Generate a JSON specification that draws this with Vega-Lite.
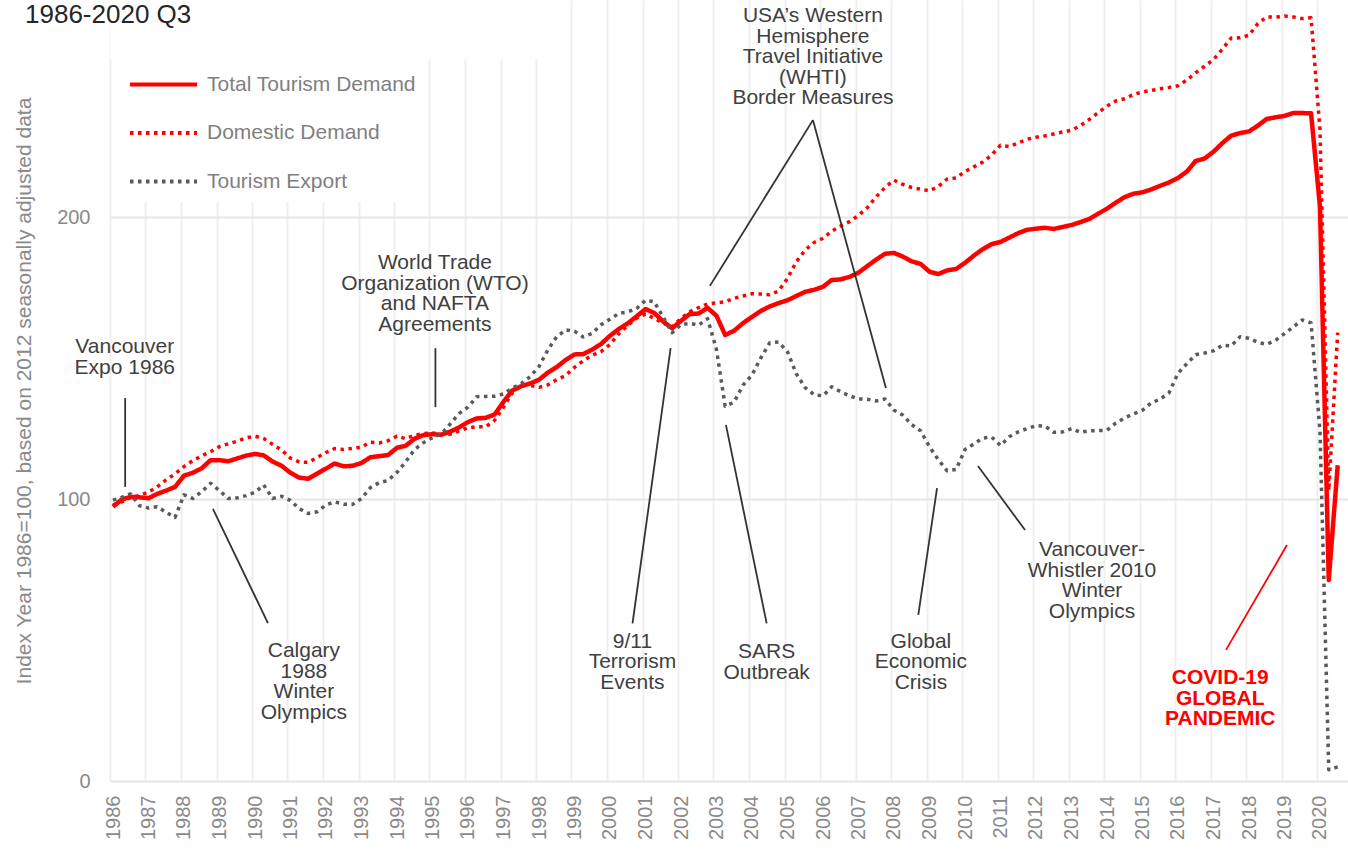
{
"$schema":"https://vega.github.io/schema/vega-lite/v6.json",
"width":1238,"height":781,
"autosize":{"type":"none"},
"padding":{"left":110,"top":0,"right":0,"bottom":70},
"background":"white",
"title":{"text":"1986-2020 Q3","anchor":"start","frame":"group","orient":"top","offset":0,"dx":-85,"dy":49,"baseline":"alphabetic","fontSize":26,"font":"Liberation Sans","fontWeight":"normal","color":"#262626"},
"config":{"font":"Liberation Sans","view":{"stroke":null}},
"datasets":{
"series":[
{"d":"1986-02-01","Total":97.3,"Domestic":97.9,"Export":99.6},
{"d":"1986-05-01","Total":99.8,"Domestic":99,"Export":100.6},
{"d":"1986-08-01","Total":100.8,"Domestic":100.5,"Export":101.8},
{"d":"1986-11-01","Total":100.6,"Domestic":101.3,"Export":97.6},
{"d":"1987-02-01","Total":100.3,"Domestic":102.5,"Export":96.8},
{"d":"1987-05-01","Total":101.8,"Domestic":104.3,"Export":97.3},
{"d":"1987-08-01","Total":103,"Domestic":106.8,"Export":95.3},
{"d":"1987-11-01","Total":104.3,"Domestic":108.9,"Export":93.5},
{"d":"1988-02-01","Total":108.3,"Domestic":111.5,"Export":101.5},
{"d":"1988-05-01","Total":109.3,"Domestic":113.6,"Export":100.2},
{"d":"1988-08-01","Total":110.9,"Domestic":115.3,"Export":102.6},
{"d":"1988-11-01","Total":113.8,"Domestic":116.8,"Export":105.6},
{"d":"1989-02-01","Total":113.8,"Domestic":118.6,"Export":103},
{"d":"1989-05-01","Total":113.4,"Domestic":119.6,"Export":100.2},
{"d":"1989-08-01","Total":114.4,"Domestic":120.5,"Export":100.4},
{"d":"1989-11-01","Total":115.4,"Domestic":121.7,"Export":101.2},
{"d":"1990-02-01","Total":116,"Domestic":122.3,"Export":102.4},
{"d":"1990-05-01","Total":115.5,"Domestic":121.5,"Export":105},
{"d":"1990-08-01","Total":113.3,"Domestic":119.4,"Export":100.2},
{"d":"1990-11-01","Total":111.8,"Domestic":117.4,"Export":101},
{"d":"1991-02-01","Total":109.3,"Domestic":114.5,"Export":99.5},
{"d":"1991-05-01","Total":107.6,"Domestic":113.2,"Export":96.6},
{"d":"1991-08-01","Total":107.2,"Domestic":113,"Export":94.9},
{"d":"1991-11-01","Total":109,"Domestic":114.7,"Export":95.5},
{"d":"1992-02-01","Total":110.8,"Domestic":116.5,"Export":97.9},
{"d":"1992-05-01","Total":112.6,"Domestic":117.9,"Export":99},
{"d":"1992-08-01","Total":111.6,"Domestic":117.6,"Export":98.2},
{"d":"1992-11-01","Total":111.8,"Domestic":118,"Export":98.1},
{"d":"1993-02-01","Total":112.8,"Domestic":118.4,"Export":100.2},
{"d":"1993-05-01","Total":114.8,"Domestic":120.2,"Export":104},
{"d":"1993-08-01","Total":115.2,"Domestic":119.9,"Export":105.8},
{"d":"1993-11-01","Total":115.6,"Domestic":120.7,"Export":106.6},
{"d":"1994-02-01","Total":118.2,"Domestic":122.3,"Export":109.5},
{"d":"1994-05-01","Total":118.9,"Domestic":121.4,"Export":113.2},
{"d":"1994-08-01","Total":121.4,"Domestic":122.6,"Export":117.6},
{"d":"1994-11-01","Total":122.7,"Domestic":123.2,"Export":120},
{"d":"1995-02-01","Total":123,"Domestic":123.4,"Export":121.8},
{"d":"1995-05-01","Total":122.8,"Domestic":123,"Export":123},
{"d":"1995-08-01","Total":123.9,"Domestic":123,"Export":126.6},
{"d":"1995-11-01","Total":125.4,"Domestic":124.1,"Export":130.3},
{"d":"1996-02-01","Total":127.3,"Domestic":125.3,"Export":132.6},
{"d":"1996-05-01","Total":128.6,"Domestic":125.6,"Export":136.3},
{"d":"1996-08-01","Total":128.8,"Domestic":125.6,"Export":136.4},
{"d":"1996-11-01","Total":130,"Domestic":127.9,"Export":136.5},
{"d":"1997-02-01","Total":134.5,"Domestic":132.6,"Export":137.3},
{"d":"1997-05-01","Total":138.5,"Domestic":137.6,"Export":139.4},
{"d":"1997-08-01","Total":140,"Domestic":140.4,"Export":140.9},
{"d":"1997-11-01","Total":141,"Domestic":140.3,"Export":143.4},
{"d":"1998-02-01","Total":142.3,"Domestic":139.6,"Export":147},
{"d":"1998-05-01","Total":144.8,"Domestic":140.5,"Export":152.8},
{"d":"1998-08-01","Total":146.8,"Domestic":142.3,"Export":157.5},
{"d":"1998-11-01","Total":149.3,"Domestic":143.8,"Export":160},
{"d":"1999-02-01","Total":151.3,"Domestic":146.7,"Export":159.5},
{"d":"1999-05-01","Total":151.4,"Domestic":149,"Export":157.5},
{"d":"1999-08-01","Total":153,"Domestic":151,"Export":158.7},
{"d":"1999-11-01","Total":155,"Domestic":152.3,"Export":161.8},
{"d":"2000-02-01","Total":157.9,"Domestic":154.8,"Export":163.8},
{"d":"2000-05-01","Total":160.3,"Domestic":158.6,"Export":165.8},
{"d":"2000-08-01","Total":162.3,"Domestic":161.6,"Export":166.4},
{"d":"2000-11-01","Total":164.8,"Domestic":164.2,"Export":167.6},
{"d":"2001-02-01","Total":167.4,"Domestic":165.6,"Export":170.5},
{"d":"2001-05-01","Total":166,"Domestic":164.1,"Export":170},
{"d":"2001-08-01","Total":163,"Domestic":162.4,"Export":164.5},
{"d":"2001-11-01","Total":160.6,"Domestic":161,"Export":159},
{"d":"2002-02-01","Total":163.2,"Domestic":164.1,"Export":161.9},
{"d":"2002-05-01","Total":165.6,"Domestic":166.4,"Export":162.3},
{"d":"2002-08-01","Total":165.8,"Domestic":167.9,"Export":161.7},
{"d":"2002-11-01","Total":167.8,"Domestic":169.2,"Export":164},
{"d":"2003-02-01","Total":165,"Domestic":169.6,"Export":153},
{"d":"2003-05-01","Total":158.2,"Domestic":170,"Export":132.9},
{"d":"2003-08-01","Total":159.7,"Domestic":171.2,"Export":134.4},
{"d":"2003-11-01","Total":162.4,"Domestic":172,"Export":140.4},
{"d":"2004-02-01","Total":164.6,"Domestic":172.8,"Export":144},
{"d":"2004-05-01","Total":166.7,"Domestic":172.7,"Export":150},
{"d":"2004-08-01","Total":168.3,"Domestic":172.5,"Export":155.4},
{"d":"2004-11-01","Total":169.5,"Domestic":173.8,"Export":155.7},
{"d":"2005-02-01","Total":170.5,"Domestic":178.3,"Export":152.2},
{"d":"2005-05-01","Total":172,"Domestic":184.1,"Export":144.5},
{"d":"2005-08-01","Total":173.5,"Domestic":188.3,"Export":139.5},
{"d":"2005-11-01","Total":174.2,"Domestic":191,"Export":137},
{"d":"2006-02-01","Total":175.3,"Domestic":192.5,"Export":136.6},
{"d":"2006-05-01","Total":177.7,"Domestic":195,"Export":139.8},
{"d":"2006-08-01","Total":177.9,"Domestic":196.8,"Export":138.1},
{"d":"2006-11-01","Total":178.8,"Domestic":198.4,"Export":136.6},
{"d":"2007-02-01","Total":180.3,"Domestic":200.6,"Export":135.5},
{"d":"2007-05-01","Total":182.6,"Domestic":203.3,"Export":135.4},
{"d":"2007-08-01","Total":184.9,"Domestic":207.2,"Export":134.8},
{"d":"2007-11-01","Total":187,"Domestic":210.5,"Export":135.5},
{"d":"2008-02-01","Total":187.3,"Domestic":213.1,"Export":131.5},
{"d":"2008-05-01","Total":186,"Domestic":211.6,"Export":129.8},
{"d":"2008-08-01","Total":184.3,"Domestic":210.5,"Export":126.4},
{"d":"2008-11-01","Total":183.4,"Domestic":209.9,"Export":124.2},
{"d":"2009-02-01","Total":180.6,"Domestic":209.3,"Export":118.5},
{"d":"2009-05-01","Total":179.8,"Domestic":210.8,"Export":114},
{"d":"2009-08-01","Total":181.1,"Domestic":213.5,"Export":110},
{"d":"2009-11-01","Total":181.6,"Domestic":213.9,"Export":110.5},
{"d":"2010-02-01","Total":183.8,"Domestic":216.2,"Export":117.6},
{"d":"2010-05-01","Total":186.3,"Domestic":217.8,"Export":119.5},
{"d":"2010-08-01","Total":188.6,"Domestic":219.5,"Export":121.6},
{"d":"2010-11-01","Total":190.4,"Domestic":222,"Export":122},
{"d":"2011-02-01","Total":191.2,"Domestic":225.5,"Export":119},
{"d":"2011-05-01","Total":192.7,"Domestic":225,"Export":122.1},
{"d":"2011-08-01","Total":194.3,"Domestic":226.3,"Export":123.8},
{"d":"2011-11-01","Total":195.5,"Domestic":227.6,"Export":125},
{"d":"2012-02-01","Total":195.9,"Domestic":228.3,"Export":126},
{"d":"2012-05-01","Total":196.2,"Domestic":228.8,"Export":125.9},
{"d":"2012-08-01","Total":195.8,"Domestic":229.5,"Export":123.7},
{"d":"2012-11-01","Total":196.5,"Domestic":230.2,"Export":123.8},
{"d":"2013-02-01","Total":197.2,"Domestic":230.8,"Export":125},
{"d":"2013-05-01","Total":198.2,"Domestic":232.4,"Export":123.7},
{"d":"2013-08-01","Total":199.3,"Domestic":234.6,"Export":124.2},
{"d":"2013-11-01","Total":201.2,"Domestic":237,"Export":124.3},
{"d":"2014-02-01","Total":203,"Domestic":239.4,"Export":124.4},
{"d":"2014-05-01","Total":205.1,"Domestic":241.2,"Export":126.9},
{"d":"2014-08-01","Total":207.1,"Domestic":242,"Export":128.8},
{"d":"2014-11-01","Total":208.3,"Domestic":243.5,"Export":130.2},
{"d":"2015-02-01","Total":208.8,"Domestic":244.4,"Export":131.5},
{"d":"2015-05-01","Total":209.8,"Domestic":244.9,"Export":134.1},
{"d":"2015-08-01","Total":211.1,"Domestic":245.5,"Export":135.4},
{"d":"2015-11-01","Total":212.3,"Domestic":246,"Export":137.7},
{"d":"2016-02-01","Total":213.9,"Domestic":246.6,"Export":144.6},
{"d":"2016-05-01","Total":216.1,"Domestic":248.6,"Export":148},
{"d":"2016-08-01","Total":219.9,"Domestic":251.2,"Export":151.2},
{"d":"2016-11-01","Total":220.8,"Domestic":253.5,"Export":151.8},
{"d":"2017-02-01","Total":223.2,"Domestic":255.9,"Export":152.6},
{"d":"2017-05-01","Total":226.2,"Domestic":259.5,"Export":154.5},
{"d":"2017-08-01","Total":228.9,"Domestic":263.5,"Export":154.3},
{"d":"2017-11-01","Total":229.8,"Domestic":263.6,"Export":157.6},
{"d":"2018-02-01","Total":230.4,"Domestic":264.5,"Export":157},
{"d":"2018-05-01","Total":232.4,"Domestic":268.6,"Export":155.6},
{"d":"2018-08-01","Total":234.8,"Domestic":271,"Export":154.9},
{"d":"2018-11-01","Total":235.4,"Domestic":270.9,"Export":156.3},
{"d":"2019-02-01","Total":235.9,"Domestic":271.3,"Export":158.7},
{"d":"2019-05-01","Total":236.9,"Domestic":271,"Export":161},
{"d":"2019-08-01","Total":236.9,"Domestic":270.4,"Export":163.5},
{"d":"2019-11-01","Total":236.8,"Domestic":270.7,"Export":162.5},
{"d":"2020-02-01","Total":203.6,"Domestic":231,"Export":124},
{"d":"2020-05-01","Total":71.3,"Domestic":103,"Export":4},
{"d":"2020-08-01","Total":112,"Domestic":159,"Export":5}
],
"notes":[
{"d":"1986-06-02","v":153.9,"label":"Vancouver\nExpo 1986"},
{"d":"1991-06-19","v":46.1,"label":"Calgary\n1988\nWinter\nOlympics"},
{"d":"1995-02-26","v":183.7,"label":"World Trade\nOrganization (WTO)\nand NAFTA\nAgreements"},
{"d":"2000-09-19","v":49.3,"label":"9/11\nTerrorism\nEvents"},
{"d":"2004-07-01","v":45.7,"label":"SARS\nOutbreak"},
{"d":"2005-10-20","v":271.3,"label":"USA’s Western\nHemisphere\nTravel Initiative\n(WHTI)\nBorder Measures"},
{"d":"2008-11-04","v":49.3,"label":"Global\nEconomic\nCrisis"},
{"d":"2013-08-30","v":81.9,"label":"Vancouver-\nWhistler 2010\nWinter\nOlympics"}
],
"covid":[
{"d":"2017-04-11","v":36.5,"label":"COVID-19\nGLOBAL\nPANDEMIC"}
],
"leaders":[
{"d1":"1986-06-06","v1":135.8,"d2":"1986-06-06","v2":104.3,"c":"#333333"},
{"d1":"1988-11-25","v1":96.5,"d2":"1990-06-14","v2":56.0,"c":"#333333"},
{"d1":"1995-03-03","v1":153.5,"d2":"1995-03-03","v2":132.6,"c":"#333333"},
{"d1":"2000-09-20","v1":55.9,"d2":"2001-10-17","v2":153.5,"c":"#333333"},
{"d1":"2004-07-01","v1":55.9,"d2":"2003-05-09","v2":126.3,"c":"#333333"},
{"d1":"2005-10-20","v1":234.4,"d2":"2002-11-25","v2":175.6,"c":"#333333"},
{"d1":"2005-10-20","v1":234.4,"d2":"2007-11-10","v2":139.4,"c":"#333333"},
{"d1":"2008-10-08","v1":58.9,"d2":"2009-04-19","v2":103.9,"c":"#333333"},
{"d1":"2011-10-11","v1":89.0,"d2":"2010-06-14","v2":111.7,"c":"#333333"},
{"d1":"2017-06-09","v1":46.5,"d2":"2019-02-26","v2":83.7,"c":"#ff0000"}
],
"boxes":[
{"d1":"1986-01-01","d2":"1998-07-15","v1":256,"v2":277}
]
},
"layer":[
{"data":{"name":"boxes"},
 "mark":{"type":"rect","color":"white"},
 "encoding":{
  "x":{"field":"d1","type":"temporal","scale":{"type":"utc","domain":["1986-01-01","2020-11-15"]},
   "axis":{"title":null,"format":"%Y","tickCount":{"interval":"year","step":1},"labelAngle":270,"labelAlign":"right","labelBaseline":"middle","labelFontSize":20,"labelColor":"#8a8a8a","labelPadding":14,"labelOffset":3,"labelFlush":false,"labelOverlap":false,"labelBound":false,"ticks":false,"domain":false,"grid":true,"gridColor":"#efefef","gridWidth":2,"zindex":0}},
  "x2":{"field":"d2"},
  "y":{"field":"v1","type":"quantitative","scale":{"domain":[0,277],"nice":false,"zero":true},
   "axis":{"values":[0,100,200],"title":"Index Year 1986=100, based on 2012 seasonally adjusted data","titleFontSize":21,"titleColor":"#8a8a8a","titleFontWeight":"normal","titlePadding":22,"labelFontSize":20,"labelColor":"#8a8a8a","labelPadding":20,"ticks":false,"domain":false,"grid":true,"gridColor":"#e6e6e6","gridWidth":2,"zindex":0}},
  "y2":{"field":"v2"}
 }},
{"data":{"name":"series"},
 "transform":[{"fold":["Total","Domestic","Export"],"as":["s","v"]}],
 "mark":{"type":"line","strokeCap":"butt","strokeJoin":"round","clip":true},
 "encoding":{
  "x":{"field":"d","type":"temporal"},
  "y":{"field":"v","type":"quantitative"},
  "color":{"field":"s","type":"nominal","scale":{"domain":["Total","Domestic","Export"],"range":["#ff0000","#ff0000","#5a5a5a"]},
   "legend":{"title":null,"orient":"none","legendX":2,"legendY":39,"fillColor":"white","padding":10,"symbolOffset":6,"symbolType":"stroke","symbolSize":4489,"symbolStrokeWidth":4,"labelFontSize":21,"labelColor":"#7f7f7f","labelOffset":8,"labelLimit":400,"rowPadding":2.5,"labelExpr":"datum.label == 'Total' ? 'Total Tourism Demand' : datum.label == 'Domestic' ? 'Domestic Demand' : 'Tourism Export'"}},
  "strokeDash":{"field":"s","type":"nominal","scale":{"domain":["Total","Domestic","Export"],"range":[[1,0],[3.5,4.5],[3.5,4.5]]},
   "legend":{"title":null,"orient":"none","legendX":2,"legendY":39,"fillColor":"white","padding":10,"symbolOffset":6,"symbolType":"stroke","symbolSize":4489,"symbolStrokeWidth":4,"labelFontSize":21,"labelColor":"#7f7f7f","labelOffset":8,"labelLimit":400,"rowPadding":2.5,"labelExpr":"datum.label == 'Total' ? 'Total Tourism Demand' : datum.label == 'Domestic' ? 'Domestic Demand' : 'Tourism Export'"}},
  "strokeWidth":{"condition":{"test":"datum.s === 'Total'","value":4.5},"value":3.5}
 }},
{"data":{"name":"leaders"},
 "mark":{"type":"rule","strokeWidth":1.8},
 "encoding":{
  "x":{"field":"d1","type":"temporal"},"x2":{"field":"d2"},
  "y":{"field":"v1","type":"quantitative"},"y2":{"field":"v2"},
  "color":{"field":"c","type":"nominal","scale":null,"legend":null}
 }},
{"data":{"name":"notes"},
 "mark":{"type":"text","align":"center","baseline":"middle","fontSize":21,"lineHeight":20.5,"lineBreak":"\n","color":"#404040","font":"Liberation Sans"},
 "encoding":{
  "x":{"field":"d","type":"temporal"},
  "y":{"field":"v","type":"quantitative"},
  "text":{"field":"label"}
 }},
{"data":{"name":"covid"},
 "mark":{"type":"text","align":"center","baseline":"middle","fontSize":21,"fontWeight":"bold","lineHeight":20.5,"lineBreak":"\n","color":"#ff0000","font":"Liberation Sans"},
 "encoding":{
  "x":{"field":"d","type":"temporal"},
  "y":{"field":"v","type":"quantitative"},
  "text":{"field":"label"}
 }}
]
}
